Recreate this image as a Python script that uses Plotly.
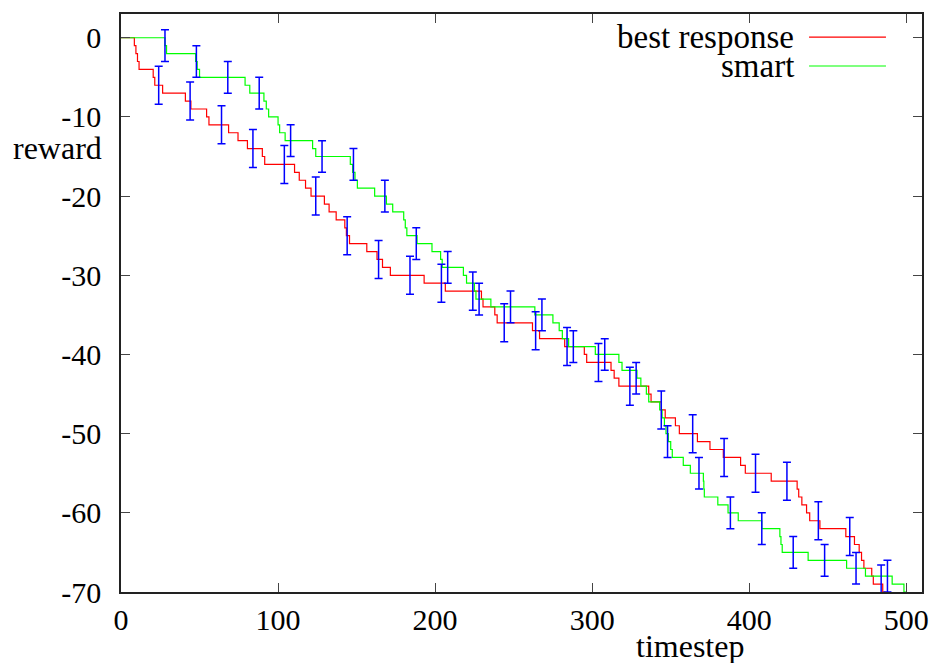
import plotly.graph_objects as go

# ---- data ----
red_t = [0, 8.5, 9.5, 10.5, 11.5, 20.5, 21.5, 26.5, 41, 44.5, 54.5, 56, 68.5, 74.5, 80.5, 90, 91.5,
         110.5, 113.5, 117.5, 121, 129.5, 132.5, 137, 142.5, 143.5, 145.5, 156.5, 163, 166.5, 171.5,
         193, 206.5, 229.5, 230.5, 238, 239.5, 262, 266.5, 282.5, 295, 296.5, 312, 314, 317, 336,
         337.5, 344, 346.5, 353, 355.5, 367, 375, 383.5, 394.5, 397.5, 414, 430.5, 431.5, 433.5,
         436.5, 438.5, 445, 461.5, 467, 470, 471.5, 473, 478, 479, 485, 486.5, 490]
red_r = [0, -1, -2, -3, -4, -5, -6, -7, -8, -9, -10, -11, -12, -13, -14, -15, -16, -17, -18, -19,
         -20, -21, -22, -23, -24, -25, -26, -27, -28, -29, -30, -31, -32, -33, -34, -35, -36, -37,
         -38, -39, -40, -41, -42, -43, -44, -45, -46, -47, -48, -49, -50, -51, -52, -53, -54, -55,
         -56, -57, -58, -59, -60, -61, -62, -63, -64, -65, -66, -67, -68, -69, -70, -71, -71]

green_t = [0, 28, 29, 47.5, 48.5, 50, 79, 82, 91, 92.5, 94, 100, 101, 104.5, 122, 124, 146, 147.5,
           149, 150.5, 161.5, 169, 173, 180, 181, 182, 188.5, 198, 203.5, 204.5, 218, 220, 225, 226,
           235.5, 263.5, 275, 279, 281, 285, 302, 317, 319, 328.5, 331, 334.5, 336, 343, 344.5, 346,
           347, 348.5, 350, 351, 358, 362.5, 370.8, 371.1, 371.4, 380, 386.5, 393, 408, 419.5,
           420.2, 421, 437.5, 462, 474, 491, 498.5, 500, 510]
green_r = [0, -1, -2, -3, -4, -5, -6, -7, -8, -9, -10, -11, -12, -13, -14, -15, -16, -17, -18, -19,
           -20, -21, -22, -23, -24, -25, -26, -27, -28, -29, -30, -31, -32, -33, -34, -35, -36, -37,
           -38, -39, -40, -41, -42, -43, -44, -45, -46, -47, -48, -49, -50, -51, -52, -53, -54, -55,
           -56, -57, -58, -59, -60, -61, -62, -63, -64, -65, -66, -67, -68, -69, -70, -71, -71]

red_err_t = [24, 44, 64, 84, 104, 124, 144, 164, 184, 204, 224, 244, 264, 284, 304, 324, 344, 364,
             384, 404, 424, 444, 464, 484]
red_err_mean = [-6, -8, -11, -14, -16, -20, -25, -28, -30, -31, -32, -36, -37, -39, -41, -44, -47,
                -50, -53, -55, -56, -61, -63, -69]
red_err_half = [2.4, 2.4, 2.4, 2.4, 2.4, 2.4, 2.4, 2.4, 2.4, 2.4, 2.4, 2.4, 2.4, 2.4, 2.4, 2.4,
                2.4, 2.4, 2.4, 2.4, 2.4, 2.4, 2.4, 2.4]

green_err_t = [28, 48, 68, 88, 108, 128, 148, 168, 188, 208, 228, 248, 268, 288, 308, 328, 348,
               368, 388, 408, 428, 448, 468, 488]
green_err_mean = [-1, -3, -5, -7, -13, -15, -16, -20, -26, -29, -33, -34, -35, -39, -40, -43, -51,
                  -55, -60, -62, -65, -66, -67, -68]
green_err_half = [2.0, 2.0, 2.0, 2.0, 2.0, 2.0, 2.0, 2.0, 2.0, 2.0, 2.0, 2.0, 2.0, 2.0, 2.0, 2.0,
                  2.0, 2.0, 2.0, 2.0, 2.0, 2.0, 2.0, 2.0]

x_ticks = [0, 100, 200, 300, 400, 500]
x_tick_labels = ["0", "100", "200", "300", "400", "500"]
y_ticks = [0, -10, -20, -30, -40, -50, -60, -70]
y_tick_labels = ["0", "-10", "-20", "-30", "-40", "-50", "-60", "-70"]

series_names = ["best response", "smart"]
RED = "#ff0000"
GREEN = "#00ff00"
BLUE = "#0000ff"
FONT = "Liberation Serif"

fig = go.Figure()
fig.add_trace(go.Scatter(x=red_t, y=red_r, mode="lines", line=dict(color=RED, width=1.2, shape="hv"),
                         name=series_names[0], showlegend=False))
fig.add_trace(go.Scatter(x=green_t, y=green_r, mode="lines", line=dict(color=GREEN, width=1.2, shape="hv"),
                         name=series_names[1], showlegend=False))
for ex, ey, eh in [(red_err_t, red_err_mean, red_err_half), (green_err_t, green_err_mean, green_err_half)]:
    fig.add_trace(go.Scatter(x=ex, y=ey, mode="markers",
                             marker=dict(size=1, color="rgba(0,0,0,0)"),
                             error_y=dict(type="data", array=eh, visible=True, color=BLUE,
                                          thickness=1.5, width=4),
                             showlegend=False, hoverinfo="skip"))

axis_common = dict(showline=True, linecolor="#222", linewidth=1.5, mirror="allticks",
                   ticks="inside", ticklen=9, tickwidth=1, tickcolor="#444",
                   showgrid=False, zeroline=False,
                   tickfont=dict(family=FONT, size=30, color="black"))
fig.update_xaxes(range=[0, 510], tickvals=x_ticks, ticktext=x_tick_labels,
                 ticklabelstandoff=0, **axis_common)
fig.update_yaxes(range=[-70, 3], tickvals=y_ticks, ticktext=y_tick_labels,
                 ticklabelstandoff=12, **axis_common)

# gnuplot-style key: right-aligned text, sample line to its right
key_y = [0.960, 0.910]
key_colors = [RED, GREEN]
for name, ky, kc in zip(series_names, key_y, key_colors):
    fig.add_annotation(xref="paper", yref="paper", x=0.843, y=ky, text=name, showarrow=False,
                       xanchor="right", yanchor="middle", font=dict(family=FONT, size=33, color="black"))
    fig.add_shape(type="line", xref="paper", yref="paper", x0=0.859, x1=0.955, y0=ky, y1=ky,
                  line=dict(color=kc, width=1.2))

fig.add_annotation(xref="paper", yref="paper", x=0, y=0.768, xshift=-17, text="reward", showarrow=False,
                   xanchor="right", yanchor="middle", font=dict(family=FONT, size=32, color="black"))
fig.add_annotation(xref="paper", yref="paper", x=0.710, y=-0.093, text="timestep", showarrow=False,
                   xanchor="center", yanchor="middle", font=dict(family=FONT, size=32, color="black"))

fig.update_layout(width=940, height=663, margin=dict(l=121, r=11, t=14, b=71, pad=0),
                  plot_bgcolor="white", paper_bgcolor="white", showlegend=False)

fig.write_html("out.html", config={"displayModeBar": False},
               post_script="document.body.style.margin='0';document.body.style.overflow='hidden';")
